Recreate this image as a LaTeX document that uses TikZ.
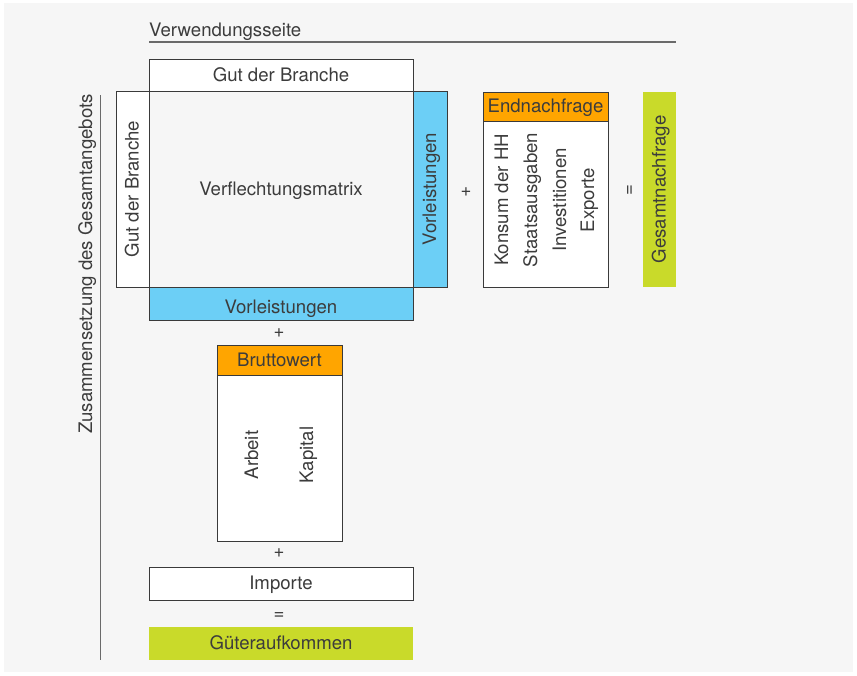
\documentclass[tikz,border=0pt]{standalone}
\usepackage{fontspec}
\setmainfont{TeX Gyre Heros}
\definecolor{bgc}{HTML}{F6F6F6}
\definecolor{bdc}{HTML}{3A3A3A}
\definecolor{txc}{HTML}{3C3C3C}
\definecolor{bluec}{HTML}{6CCFF6}
\definecolor{orangec}{HTML}{FFA500}
\definecolor{greenc}{HTML}{C9DA2A}
\definecolor{rulec}{HTML}{6A6A6A}
\tikzset{
  lbl/.style={inner sep=0pt, text=txc, font=\fontsize{18.6}{22}\selectfont, text height=13pt, text depth=1pt},
  cell/.style={lbl, draw=bdc, line width=1pt, fill=white},
  bluebox/.style={lbl, draw=bdc, line width=1pt, fill=bluec},
  orangebox/.style={lbl, draw=bdc, line width=1pt, fill=orangec},
  greenbox/.style={lbl, fill=greenc},
  rulel/.style={draw=rulec, line width=1.2pt},
  vert/.style={rotate=90}
}
\begin{document}
\begin{tikzpicture}[x=1pt,y=-1pt]
\useasboundingbox (0,0) rectangle (857,675);
\fill[bgc] (4,3) rectangle (853,672);

% top rule
\node[lbl, anchor=base west] (vs) at (149,36) {Verwendungsseite};
\coordinate (r1) at (149,42);
\coordinate (r2) at (676,42);
\draw[rulel] (r1) -- (r2);

% left rule
\node[lbl, vert] (za) at (86,264) {Zusammensetzung des Gesamtangebots};
\coordinate (l1) at (100.5,95);
\coordinate (l2) at (100.5,660);
\draw[rulel] (l1) -- (l2);

% matrix block
\node[cell, minimum width=264pt, minimum height=32pt] (top) at (281,75) {Gut der Branche};
\node[cell, minimum width=33pt, minimum height=196pt] (left) at (132.5,189) {};
\node[lbl, vert] (leftt) at (left.center) {Gut der Branche};
\node[cell, minimum width=264pt, minimum height=196pt, fill=bgc] (mat) at (281,189) {Verflechtungsmatrix};
\node[bluebox, minimum width=34pt, minimum height=196pt] (vr) at (430,189) {};
\node[lbl, vert] (vrt) at (vr.center) {Vorleistungen};
\node[bluebox, minimum width=264pt, minimum height=33pt] (vb) at (281,303.5) {};
\node[lbl, anchor=base] (vbt) at (281,313) {Vorleistungen};

% Bruttowert
\node[lbl] (p1) at (279,331) {+};
\node[orangebox, minimum width=125pt, minimum height=30pt] (bw) at (279.5,360) {Bruttowert};
\node[cell, minimum width=125pt, minimum height=166pt] (bwb) at (279.5,458) {};
\node[lbl, vert] (arb) at (252,455) {Arbeit};
\node[lbl, vert] (kap) at (307,455) {Kapital};
\node[lbl] (p2) at (279,551) {+};
\node[cell, minimum width=264pt, minimum height=33pt] (imp) at (281,583.5) {Importe};
\node[lbl] (e1) at (279,613) {=};
\node[greenbox, minimum width=264pt, minimum height=33pt] (gut) at (281,643) {Güteraufkommen};

% Endnachfrage
\node[lbl] (p3) at (466,190) {+};
\node[orangebox, minimum width=125pt, minimum height=29pt] (en) at (545.5,106.5) {Endnachfrage};
\node[cell, minimum width=125pt, minimum height=166pt] (enb) at (545.5,204) {};
\node[lbl, vert] (k1) at (502,200) {Konsum der HH};
\node[lbl, vert] (k2) at (531,200) {Staatsausgaben};
\node[lbl, vert] (k3) at (560,200) {Investitionen};
\node[lbl, vert] (k4) at (588,200) {Exporte};
\node[lbl, vert] (e2) at (628,190) {=};
\node[greenbox, minimum width=33pt, minimum height=195pt] (gn) at (659.5,189.5) {};
\node[lbl, vert] (gnt) at (gn.center) {Gesamtnachfrage};
\end{tikzpicture}
\end{document}
